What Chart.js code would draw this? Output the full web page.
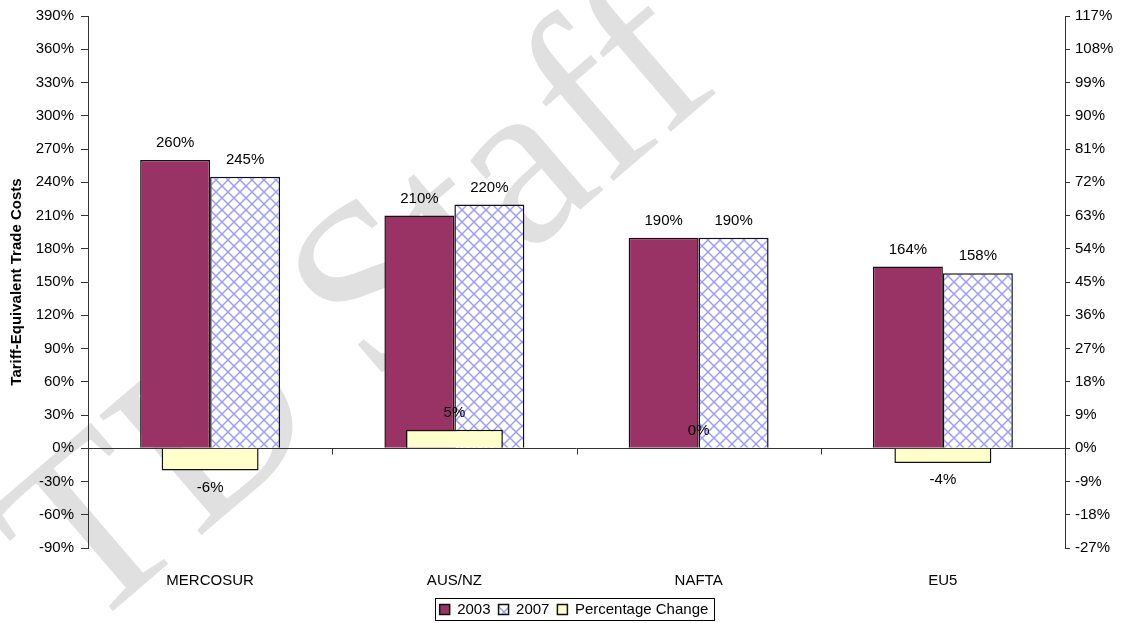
<!DOCTYPE html>
<html>
<head>
<meta charset="utf-8">
<script src="https://cdn.jsdelivr.net/npm/chart.js@4"></script>
<style>
  html, body { margin: 0; padding: 0; background: #fff; }
  #wrap { width: 1122px; height: 623px; }
</style>
</head>
<body>
<div id="wrap"><canvas id="tradeCosts"></canvas></div>
<script>
var regions = ['MERCOSUR', 'AUS/NZ', 'NAFTA', 'EU5'];
var costs2003 = [260, 210, 190, 164];
var costs2007 = [245, 220, 190, 158];
var pctChange = [-6, 5, 0, -4];

var FONT = "'Liberation Sans', Arial, sans-serif";

// crosshatch fill for the 2007 bars
function hatch() {
    var c = document.createElement('canvas');
    c.width = 12; c.height = 12;
    var g = c.getContext('2d');
    g.fillStyle = '#fff';
    g.fillRect(0, 0, 12, 12);
    g.strokeStyle = '#9999ff';
    g.lineWidth = 1.4;
    g.beginPath();
    g.moveTo(-1, -1); g.lineTo(13, 13);
    g.moveTo(13, -1); g.lineTo(-1, 13);
    g.stroke();
    return g.createPattern(c, 'repeat');
}

var backdrop = {
    id: 'backdrop',
    beforeDraw: function(chart) {
        var ctx = chart.ctx;
        ctx.save();
        ctx.fillStyle = '#fff';
        ctx.fillRect(0, 0, chart.width, chart.height);
        ctx.translate(85, 635);
        ctx.rotate(-0.71);
        ctx.font = "240px 'Liberation Serif', 'DejaVu Serif', serif";
        ctx.fillStyle = '#e0e0e0';
        ctx.textAlign = 'left';
        ctx.textBaseline = 'alphabetic';
        ctx.fillText('TD Staff', 0, 0);
        ctx.restore();
    },
    afterLayout: function(chart) {
        // legend sits a little right of centre in the original
        chart.legend.left += 13;
        chart.legend.right += 13;
    }
};

var zeroLine = {
    id: 'zeroLine',
    beforeDatasetsDraw: function(chart) {
        var ctx = chart.ctx, x = chart.scales.x, y = chart.scales.y;
        var area = chart.chartArea;
        var y0 = Math.round(y.getPixelForValue(0)) + 0.5;
        ctx.save();
        ctx.strokeStyle = '#333';
        ctx.lineWidth = 1;
        ctx.beginPath();
        ctx.moveTo(area.left, y0);
        ctx.lineTo(area.right, y0);
        for (var i = 0; i < regions.length - 1; i++) {
            var bx = Math.round((x.getPixelForValue(i) + x.getPixelForValue(i + 1)) / 2) + 0.5;
            ctx.moveTo(bx, y0);
            ctx.lineTo(bx, y0 + 6);
        }
        ctx.stroke();
        ctx.restore();
    }
};

var valueLabels = {
    id: 'valueLabels',
    afterDatasetsDraw: function(chart) {
        var ctx = chart.ctx;
        ctx.save();
        ctx.font = '15px ' + FONT;
        ctx.fillStyle = '#000';
        ctx.textAlign = 'center';
        ctx.textBaseline = 'middle';
        chart.data.datasets.forEach(function(ds, di) {
            var meta = chart.getDatasetMeta(di);
            meta.data.forEach(function(bar, i) {
                var v = ds.data[i];
                var yy = v < 0 ? bar.y + 17 : bar.y - 17;
                ctx.fillText(v + '%', bar.x, yy);
            });
        });
        ctx.restore();
    }
};

var legendBox = {
    id: 'legendBox',
    afterDraw: function(chart) {
        var boxes = chart.legend.legendHitBoxes;
        if (!boxes || !boxes.length) return;
        var l = Infinity, r = -Infinity, t = Infinity, b = -Infinity;
        boxes.forEach(function(h) {
            l = Math.min(l, h.left); r = Math.max(r, h.left + h.width);
            t = Math.min(t, h.top); b = Math.max(b, h.top + h.height);
        });
        var mid = Math.round((t + b) / 2);
        var ctx = chart.ctx;
        ctx.save();
        ctx.strokeStyle = '#000';
        ctx.lineWidth = 1;
        ctx.strokeRect(Math.round(l) - 4.5, mid - 11.5, Math.round(r - l) + 10, 22);
        ctx.restore();
    }
};

var ctx = document.getElementById('tradeCosts').getContext('2d');
var config = {
    type: 'bar',
    data: {
        labels: regions,
        datasets: [{
            label: '2003',
            data: costs2003,
            backgroundColor: '#993366',
            borderColor: '#111',
            borderWidth: 1.5,
            categoryPercentage: 0.573,
            barPercentage: 1,
            yAxisID: 'y',
            order: 1
        }, {
            label: '2007',
            data: costs2007,
            backgroundColor: hatch(),
            borderColor: '#111',
            borderWidth: 1.5,
            categoryPercentage: 0.573,
            barPercentage: 1,
            yAxisID: 'y',
            order: 1
        }, {
            label: 'Percentage Change',
            data: pctChange,
            backgroundColor: '#ffffcc',
            borderColor: '#111',
            borderWidth: 1.5,
            grouped: false,
            categoryPercentage: 0.397,
            barPercentage: 1,
            yAxisID: 'y1',
            order: 0
        }]
    },
    options: {
        responsive: true,
        maintainAspectRatio: false,
        animation: false,
        layout: { padding: { top: 14, right: 0, bottom: -4, left: 0 } },
        plugins: {
            tooltip: { enabled: false },
            legend: {
                position: 'bottom',
                labels: {
                    color: '#000',
                    font: { family: FONT, size: 15 },
                    boxWidth: 10,
                    boxHeight: 10,
                    padding: 8,
                    sort: function(a, b) { return a.datasetIndex - b.datasetIndex; }
                }
            }
        },
        scales: {
            x: {
                grid: { display: false },
                border: { display: false },
                ticks: { color: '#000', font: { family: FONT, size: 15 }, padding: 16 },
                afterFit: function(s) { s.height = 46; }
            },
            y: {
                position: 'left',
                min: -90,
                max: 390,
                ticks: {
                    stepSize: 30,
                    color: '#000',
                    font: { family: FONT, size: 15 },
                    padding: 7,
                    callback: function(v) { return v + '%'; }
                },
                grid: { drawOnChartArea: false, tickLength: 7, color: '#333' },
                border: { color: '#333' },
                title: {
                    display: true,
                    text: 'Tariff-Equivalent Trade Costs',
                    color: '#000',
                    font: { family: FONT, size: 15, weight: 'bold' },
                    padding: { top: 8, bottom: 0 }
                },
                afterFit: function(s) { s.width = 88; }
            },
            y1: {
                position: 'right',
                min: -27,
                max: 117,
                ticks: {
                    stepSize: 9,
                    color: '#000',
                    font: { family: FONT, size: 15 },
                    padding: 5,
                    callback: function(v) { return v + '%'; }
                },
                grid: { drawOnChartArea: false, tickLength: 5, color: '#333' },
                border: { color: '#333' },
                afterFit: function(s) { s.width = 57; }
            }
        }
    },
    plugins: [backdrop, zeroLine, valueLabels, legendBox]
};

var chart = new Chart(ctx, config);
</script>
</body>
</html>
